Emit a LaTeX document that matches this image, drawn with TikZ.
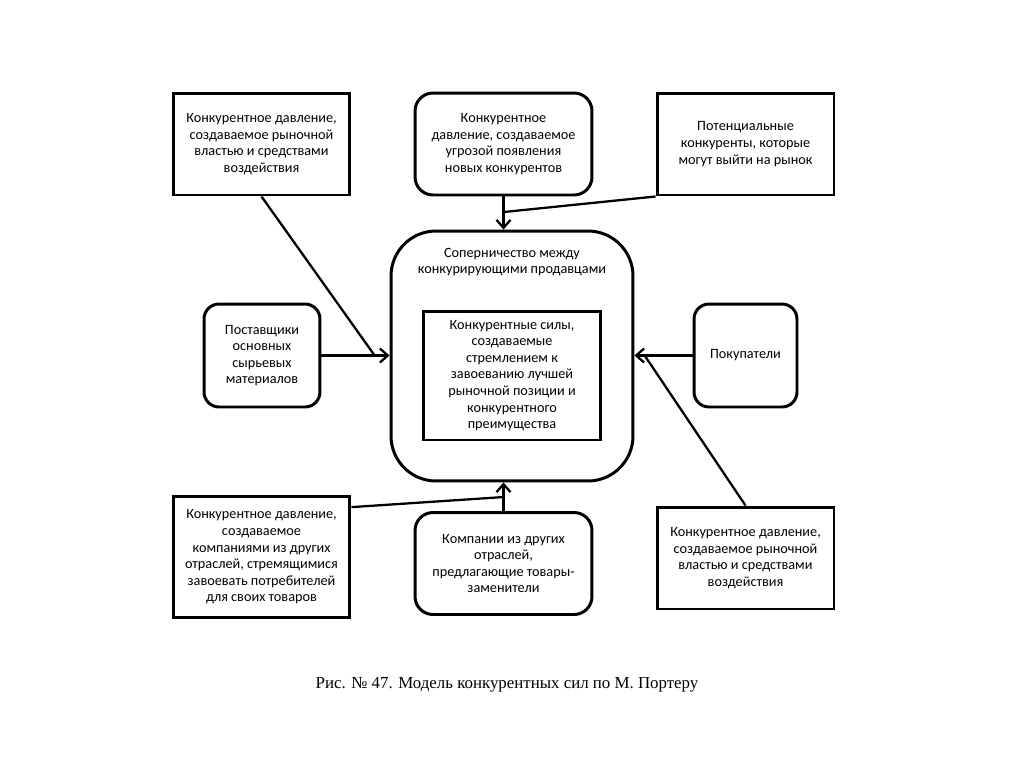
\documentclass[tikz,border=0pt]{standalone}
\usepackage{fontspec}
\setmainfont{Carlito}
\newfontfamily\capfont{Liberation Serif}
\usetikzlibrary{arrows.meta,positioning}
\tikzset{
    %Define standard arrow tip
    >={Straight Barb[length=4.5pt,width=8pt]},
    %Define style for boxes
    force/.style={
           rectangle,
           draw=black, line width=1.7pt,
           minimum width=3.54cm,
           minimum height=2.04cm,
           inner sep=0pt,
           font=\fontsize{8.1}{9.45}\selectfont,
           align=center},
    group/.style={
           force,
           rounded corners=0.36cm},
    arena/.style={
           rectangle,
           rounded corners=0.9cm,
           draw=black, line width=1.7pt,
           minimum width=4.84cm,
           minimum height=5cm,
           inner sep=0pt},
    plain/.style={
           inner sep=0pt,
           font=\fontsize{8.1}{9.45}\selectfont,
           align=center},
    % Define arrow style
    pil/.style={
           ->,
           line width=1.3pt},
    feed/.style={
           line width=1.3pt}
}
\begin{document}
\begin{tikzpicture}[x=0.02cm,y=-0.02cm]
\useasboundingbox (0,0) rectangle (1024,768);
 %nodes
\node[arena](1) at (512,356){};
\node[plain](1t) at (512,262){Соперничество между\\конкурирующими продавцами};
\node[force, minimum width=3.56cm, minimum height=2.58cm](2) at (512,375.5){Конкурентные силы,\\создаваемые\\стремлением к\\завоеванию лучшей\\рыночной позиции и\\конкурентного\\преимущества};
\node[force](3) at (261.5,144){Конкурентное давление,\\создаваемое рыночной\\властью и средствами\\воздействия};
\node[group](4) at (503.5,144){Конкурентное\\давление, создаваемое\\угрозой появления\\новых конкурентов};
\node[force](5) at (745.5,144){Потенциальные\\конкуренты, которые\\могут выйти на рынок};
\node[group, rounded corners=0.3cm, minimum width=2.32cm, minimum height=2.06cm](6) at (262,355.5){Поставщики\\основных\\сырьевых\\материалов};
\node[group, rounded corners=0.3cm, minimum width=2.06cm, minimum height=2.06cm](7) at (745.5,355.5){Покупатели};
\node[force, minimum height=2.42cm](8) at (261.5,557){Конкурентное давление,\\создаваемое\\компаниями из других\\отраслей, стремящимися\\завоевать потребителей\\для своих товаров};
\node[group](9) at (503.5,563.5){Компании из других\\отраслей,\\предлагающие товары-\\заменители};
\node[force](10) at (745.5,558){Конкурентное давление,\\создаваемое рыночной\\властью и средствами\\воздействия};
\node[font=\capfont\fontsize{9.6}{12}\selectfont](11) at (507,685){Рис. № 47. Модель конкурентных сил по М. Портеру};
 %joints
\coordinate (j1) at (375,356);
\coordinate (j2) at (504,212);
\coordinate (j3) at (645,356);
\coordinate (j4) at (504,497);
 %connectors
\draw[pil] (6.east) -- (6.east -| 1.west);
\draw[pil] (7.west) -- (7.west -| 1.east);
\draw[pil] (4.south) -- (4.south |- 1.north);
\draw[pil] (9.north) -- (9.north |- 1.south);
\draw[feed] (3.south) -- (j1);
\draw[feed] (5.south west) -- (j2);
\draw[feed] (10.north) -- (j3);
\draw[feed] (8.29.5) -- (j4);
\end{tikzpicture}
\end{document}
